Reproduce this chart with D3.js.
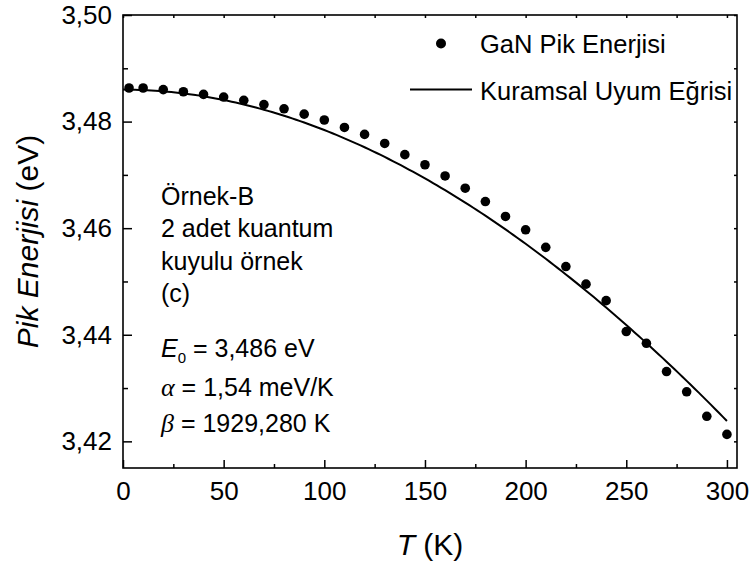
<!DOCTYPE html>
<html>
<head>
<meta charset="utf-8">
<script src="https://cdn.jsdelivr.net/npm/d3@7"></script>
<style>
  html, body { margin: 0; padding: 0; background: #fff; }
  svg { display: block; font-family: "Liberation Sans", Arial, sans-serif; }
</style>
</head>
<body>
<svg id="chart" width="753" height="570"></svg>
<script>
// Temperature (K) of each measured GaN peak
const temperatures = [3, 10, 20, 30, 40, 50, 60, 70, 80, 90, 100, 110, 120, 130, 140, 150,
  160, 170, 180, 190, 200, 210, 220, 230, 240, 250, 260, 270, 280, 290, 300];
// Measured GaN peak energy (eV)
const peakEnergies = [3.4863, 3.4863, 3.4860, 3.4856, 3.4851, 3.4846, 3.4840, 3.4832, 3.4824,
  3.4814, 3.4803, 3.4789, 3.4776, 3.4759, 3.4738, 3.4719, 3.4698, 3.4675, 3.4650, 3.4622,
  3.4597, 3.4564, 3.4528, 3.4495, 3.4464, 3.4406, 3.4384, 3.4331, 3.4293, 3.4247, 3.4213];

// Varshni fit parameters printed in the panel
const E0 = 3.486;          // eV
const alphaMeV = 1.54;     // meV/K
const betaK = 1929.280;    // K

// Axis ticks
const xMajorTicks = [0, 50, 100, 150, 200, 250, 300];
const xMinorTicks = [25, 75, 125, 175, 225, 275];
const yMajorTicks = [3.42, 3.44, 3.46, 3.48, 3.50];
const yMinorTicks = [3.43, 3.45, 3.47, 3.49];

const legendLabels = ["GaN Pik Enerjisi", "Kuramsal Uyum Eğrisi"];
const noteLines = ["Örnek-B", "2 adet kuantum", "kuyulu örnek", "(c)"];

const svg = d3.select("#chart");
const plot = { left: 123, right: 737, top: 15, bottom: 468 };

const x = d3.scaleLinear().domain([0, 305]).range([plot.left, plot.right]);
const y = d3.scaleLinear().domain([3.415, 3.50]).range([plot.bottom, plot.top]);

const trLocale = d3.formatLocale({ decimal: ",", thousands: ".", grouping: [3], currency: ["", ""] });
const fmtY = trLocale.format(".2f");

const tickFont = 26;

// Bottom axis: labelled major ticks and minor ticks, pointing inward
const gBottom = svg.append("g").attr("transform", `translate(0,${plot.bottom})`);
gBottom.call(d3.axisBottom(x).tickValues(xMajorTicks).tickSize(-8).tickPadding(14).tickFormat(d3.format("d")));
gBottom.append("g").call(d3.axisBottom(x).tickValues(xMinorTicks).tickSize(-4).tickFormat(""));

// Left axis
const gLeft = svg.append("g").attr("transform", `translate(${plot.left},0)`);
gLeft.call(d3.axisLeft(y).tickValues(yMajorTicks).tickSize(-9).tickPadding(11).tickFormat(fmtY));
gLeft.append("g").call(d3.axisLeft(y).tickValues(yMinorTicks).tickSize(-5).tickFormat(""));

// Top and right mirror axes with short ticks
svg.append("g").attr("transform", `translate(0,${plot.top})`)
  .call(d3.axisTop(x).tickValues(xMajorTicks.concat(xMinorTicks)).tickSize(-3).tickFormat(""));
svg.append("g").attr("transform", `translate(${plot.right},0)`)
  .call(d3.axisRight(y).tickValues(yMajorTicks.concat(yMinorTicks)).tickSize(-3).tickFormat(""));

svg.selectAll(".domain").remove();
svg.selectAll(".tick line").attr("stroke", "#000").attr("stroke-width", 1.5);
svg.selectAll(".tick text")
  .attr("fill", "#000")
  .style("font-size", tickFont + "px")
  .style("font-family", "'Liberation Sans', Arial, sans-serif");

// Frame
svg.append("rect")
  .attr("x", plot.left).attr("y", plot.top)
  .attr("width", plot.right - plot.left).attr("height", plot.bottom - plot.top)
  .attr("fill", "none").attr("stroke", "#000").attr("stroke-width", 1.6);

// Varshni curve E(T) = E0 - alpha T^2 / (T + beta)
const fitT = d3.range(0, 300.5, 2);
const fitE = fitT.map(t => E0 - (alphaMeV / 1000) * t * t / (t + betaK));
svg.append("path")
  .datum(fitT.map((t, i) => [t, fitE[i]]))
  .attr("fill", "none").attr("stroke", "#000").attr("stroke-width", 2)
  .attr("d", d3.line().x(d => x(d[0])).y(d => y(d[1])));

// Measured points
svg.append("g").selectAll("circle")
  .data(temperatures.map((t, i) => [t, peakEnergies[i]]))
  .join("circle")
  .attr("cx", d => x(d[0])).attr("cy", d => y(d[1]))
  .attr("r", 4.8).attr("fill", "#000");

// Legend
const lg = svg.append("g");
lg.append("circle").attr("cx", 441).attr("cy", 43.5).attr("r", 5).attr("fill", "#000");
lg.append("line").attr("x1", 410).attr("x2", 472).attr("y1", 89.5).attr("y2", 89.5)
  .attr("stroke", "#000").attr("stroke-width", 2);
lg.selectAll("text").data(legendLabels).join("text")
  .attr("x", 480).attr("y", (d, i) => 53 + i * 47)
  .style("font-size", "25.5px").attr("fill", "#000")
  .text(d => d);

// Sample description
const note = svg.append("g").style("font-size", "25px").attr("fill", "#000");
note.selectAll("text").data(noteLines).join("text")
  .attr("x", 161).attr("y", (d, i) => 205 + i * 32.3)
  .text(d => d);

// Fit parameters
const p1 = note.append("text").attr("x", 161).attr("y", 357);
p1.append("tspan").style("font-style", "italic").text("E");
p1.append("tspan").attr("dy", 6).style("font-size", "15px").text("0");
p1.append("tspan").attr("dy", -6).text(" = " + trLocale.format(".3f")(E0) + " eV");

const p2 = note.append("text").attr("x", 161).attr("y", 395.5);
p2.append("tspan").style("font-style", "italic").style("font-family", "'Liberation Serif', 'DejaVu Serif', serif").style("font-size", "26px").text("α");
p2.append("tspan").text(" = " + trLocale.format(".2f")(alphaMeV) + " meV/K");

const p3 = note.append("text").attr("x", 161).attr("y", 432);
p3.append("tspan").style("font-style", "italic").style("font-family", "'Liberation Serif', 'DejaVu Serif', serif").style("font-size", "26px").text("β");
p3.append("tspan").text(" = " + trLocale.format(".3f")(betaK) + " K");

// Axis titles
const xTitle = svg.append("text")
  .attr("x", (plot.left + plot.right) / 2).attr("y", 555)
  .attr("text-anchor", "middle").style("font-size", "30px").attr("fill", "#000");
xTitle.append("tspan").style("font-style", "italic").text("T");
xTitle.append("tspan").text(" (K)");

const yTitle = svg.append("text")
  .attr("transform", `translate(38,${(plot.top + plot.bottom) / 2}) rotate(-90)`)
  .attr("text-anchor", "middle").style("font-size", "30px").attr("fill", "#000");
yTitle.append("tspan").style("font-style", "italic").text("Pik Enerjisi");
yTitle.append("tspan").text(" (eV)");
</script>
</body>
</html>
